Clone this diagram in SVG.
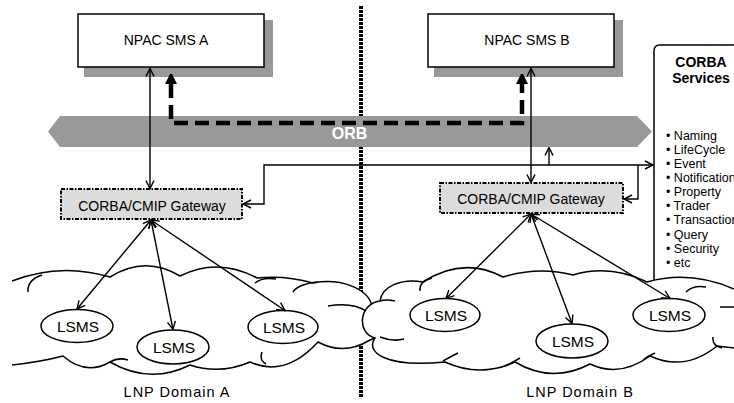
<svg xmlns="http://www.w3.org/2000/svg" width="734" height="403" viewBox="0 0 734 403">
<defs>
<style>
text{font-family:"Liberation Sans",Arial,sans-serif;fill:#000}
.box{fill:#fff;stroke:#000;stroke-width:1.5}
.shadow{fill:#999}
.gw{fill:#dcdcdc;stroke:#000;stroke-width:2;stroke-dasharray:4 1.5 1.5 1.5}
.cloud{fill:#fff;stroke:#000;stroke-width:1.5}
.curl{fill:none;stroke:#000;stroke-width:1.5}
.ell{fill:#fff;stroke:#000;stroke-width:1.5}
.ln{fill:none;stroke:#000;stroke-width:1.4}
.lsms{font-size:15.5px;text-anchor:middle}
.gwt{font-size:14px;text-anchor:middle}
.npac{font-size:14px;text-anchor:middle}
.svc{font-size:12.5px}
.dom{font-size:14.5px;letter-spacing:1px;text-anchor:middle}
</style>
<marker id="arr" viewBox="0 0 10 10" refX="9" refY="5" markerWidth="10" markerHeight="10" markerUnits="userSpaceOnUse" orient="auto-start-reverse">
<path d="M1,1 L9,5 L1,9" fill="none" stroke="#000" stroke-width="1.4"/>
</marker>
<marker id="big" viewBox="0 0 10 12" refX="0" refY="6" markerWidth="10" markerHeight="12" markerUnits="userSpaceOnUse" orient="auto-start-reverse">
<path d="M0,0 L10,5 L10,7 L0,12 z" fill="#000"/>
</marker>
</defs>

<g id="divider">
<line x1="361" y1="6" x2="361" y2="398" stroke="#000" stroke-width="4" stroke-dasharray="3 1"/>
</g>

<g id="npac-a">
<rect class="shadow" x="84" y="20" width="189" height="57"/>
<rect class="box" x="78" y="14" width="186" height="53"/>
<text class="npac" x="166" y="45">NPAC SMS A</text>
</g>

<g id="npac-b">
<rect class="shadow" x="434" y="20" width="189" height="57"/>
<rect class="box" x="428" y="14" width="186" height="53"/>
<text class="npac" x="527" y="45">NPAC SMS B</text>
</g>

<g id="orb">
<polygon points="48,131.5 60,116 637,116 652,131.5 637,147 60,147" fill="#999"/>
<text x="349.5" y="139" font-size="16" font-weight="bold" text-anchor="middle" style="fill:#fff">ORB</text>
</g>

<g id="corba-services">
<path d="M654,300 V51 Q654,45 660,45 H740" class="box"/>
<text x="701" y="67" font-size="14" font-weight="bold" text-anchor="middle">CORBA</text>
<text x="701" y="83" font-size="14" font-weight="bold" text-anchor="middle">Services</text>
<text class="svc" x="666" y="140">• Naming</text>
<text class="svc" x="666" y="154">• LifeCycle</text>
<text class="svc" x="666" y="168">• Event</text>
<text class="svc" x="666" y="182">• Notification</text>
<text class="svc" x="666" y="196">• Property</text>
<text class="svc" x="666" y="210">• Trader</text>
<text class="svc" x="666" y="224">• Transaction</text>
<text class="svc" x="666" y="238.5">• Query</text>
<text class="svc" x="666" y="253">• Security</text>
<text class="svc" x="666" y="267">• etc</text>
</g>

<g id="domain-a">
<path class="cloud" d="M12,281 Q60,262 110,277 Q145,255 180,276 Q218,257 257,278 Q285,275 313,283 C340,278 368,288 372,306 C386,316 384,336 370,340 Q344,356 318,342 Q285,378 250,362 Q220,375 190,365 Q150,385 110,362 Q86,376 63,356 Q40,362 12,365"/>
<path class="curl" d="M28,292 Q27,280 42,275 M255,283 Q262,277 276,279 M293,292 Q298,284 318,282 M328,306 Q352,302 366,311 M262,352 Q259,360 266,364 M110,362 Q118,357 128,360"/>
<text class="dom" x="177" y="397">LNP Domain A</text>
</g>

<g id="domain-b">
<path class="cloud" d="M734,289 Q690,270 647,282 Q610,264 573,275 Q538,266 503,277 Q463,256 423,282 C402,278 382,286 380,301 C358,304 357,334 375,338 C365,352 385,368 445,362 Q480,378 515,362 Q552,384 590,364 Q620,378 650,356 Q685,372 717,346 L734,348"/>
<path class="curl" d="M420,291 Q419,281 432,278 M395,301 Q386,299 380,301 M380,337 Q393,342 404,339 M443,361 Q450,357 458,353 M505,366 Q512,363 520,358 M643,360 Q648,356 655,353 M686,292 Q693,285 706,287 M720,307 L734,307 M713,337 Q712,346 722,348"/>
<text class="dom" x="580" y="397">LNP Domain B</text>
</g>

<g id="lsms-a1"><ellipse class="ell" cx="77" cy="326" rx="36" ry="16.5"/><text class="lsms" x="78" y="331.5">LSMS</text></g>
<g id="lsms-a2"><ellipse class="ell" cx="173" cy="347" rx="36" ry="17"/><text class="lsms" x="174" y="352.5">LSMS</text></g>
<g id="lsms-a3"><ellipse class="ell" cx="283" cy="327" rx="35" ry="16.5"/><text class="lsms" x="284" y="332.5">LSMS</text></g>
<g id="lsms-b1"><ellipse class="ell" cx="445" cy="315" rx="35" ry="16.5"/><text class="lsms" x="446" y="320.5">LSMS</text></g>
<g id="lsms-b2"><ellipse class="ell" cx="572" cy="341" rx="36" ry="17"/><text class="lsms" x="573" y="346.5">LSMS</text></g>
<g id="lsms-b3"><ellipse class="ell" cx="669" cy="315" rx="36" ry="16.5"/><text class="lsms" x="670" y="320.5">LSMS</text></g>

<g id="gateway-a">
<rect class="gw" x="61" y="189" width="181" height="30"/>
<text class="gwt" x="152" y="211">CORBA/CMIP Gateway</text>
</g>

<g id="gateway-b">
<rect class="gw" x="440" y="183" width="183" height="30"/>
<text class="gwt" x="531" y="204">CORBA/CMIP Gateway</text>
</g>

<g id="connectors">
<path d="M171,84 V123 H522 V84" fill="none" stroke="#000" stroke-width="4.5" stroke-dasharray="14 7" marker-start="url(#big)" marker-end="url(#big)"/>
<line class="ln" x1="150" y1="68.5" x2="150" y2="188.5" marker-start="url(#arr)" marker-end="url(#arr)"/>
<line class="ln" x1="531" y1="68.5" x2="531" y2="182.5" marker-start="url(#arr)" marker-end="url(#arr)"/>
<path class="ln" d="M243,204 H264 V165 H653" stroke-width="1.6" marker-start="url(#arr)" marker-end="url(#arr)"/>
<path class="ln" d="M624,199 H638 V165" stroke-width="1.6" marker-start="url(#arr)"/>
<line class="ln" x1="549" y1="165" x2="549" y2="147.5" marker-end="url(#arr)"/>
<line class="ln" x1="151" y1="220" x2="77" y2="309" marker-start="url(#arr)" marker-end="url(#arr)"/>
<line class="ln" x1="151" y1="220" x2="173" y2="329.5" marker-start="url(#arr)" marker-end="url(#arr)"/>
<line class="ln" x1="151" y1="220" x2="285" y2="310.5" marker-start="url(#arr)" marker-end="url(#arr)"/>
<line class="ln" x1="531" y1="214" x2="446" y2="298.5" marker-start="url(#arr)" marker-end="url(#arr)"/>
<line class="ln" x1="531" y1="214" x2="572" y2="323.5" marker-start="url(#arr)" marker-end="url(#arr)"/>
<line class="ln" x1="531" y1="214" x2="670" y2="298.5" marker-start="url(#arr)" marker-end="url(#arr)"/>
</g>
</svg>
